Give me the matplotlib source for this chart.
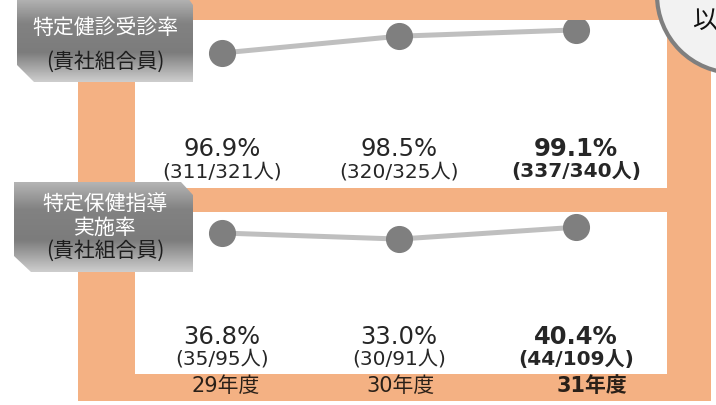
import numpy as np
import matplotlib
matplotlib.use('Agg')
import matplotlib.pyplot as plt
from matplotlib.patches import Rectangle, Polygon, Circle
from matplotlib.colors import LinearSegmentedColormap

plt.rcParams['font.family'] = ['Noto Sans CJK JP', 'DejaVu Sans']
NUMFONT = ['DejaVu Sans', 'Noto Sans CJK JP']

# data
years = ['29年度', '30年度', '31年度']
kenshin_rate = [96.9, 98.5, 99.1]
kenshin_count = ['(311/321人)', '(320/325人)', '(337/340人)']
shido_rate = [36.8, 33.0, 40.4]
shido_count = ['(35/95人)', '(30/91人)', '(44/109人)']
label1 = ['特定健診受診率', '(貴社組合員)']
label2 = ['特定保健指導', '実施率', '(貴社組合員)']

W, H = 716, 405
ORANGE = '#F4B183'
fig = plt.figure(figsize=(W / 100, H / 100), dpi=100)
fig.patch.set_facecolor('white')

# background in pixel coordinates
bg = fig.add_axes([0, 0, 1, 1])
bg.set_xlim(0, W)
bg.set_ylim(H, 0)
bg.axis('off')
bg.add_patch(Rectangle((78, -5), 633, 406, fc=ORANGE, ec='none'))
bg.add_patch(Rectangle((135, 20), 532, 168, fc='white', ec='none'))
bg.add_patch(Rectangle((135, 212), 532, 162, fc='white', ec='none'))

# gray label boxes with a vertical gradient
grad = LinearSegmentedColormap.from_list(
    'g', [(0, '#b4b4b4'), (0.3, '#828282'), (0.65, '#7c7c7c'), (1, '#cdcdcd')])


def label_box(pts, lines, ys):
    poly = Polygon(pts, closed=True, fc='none', ec='none')
    bg.add_patch(poly)
    xs = [p[0] for p in pts]
    yv = [p[1] for p in pts]
    img = bg.imshow(np.linspace(0, 1, 100).reshape(-1, 1), cmap=grad, aspect='auto',
                    extent=(min(xs), max(xs), max(yv), min(yv)), zorder=2)
    img.set_clip_path(poly)
    for txt, y in zip(lines, ys):
        col = '#1e1e1e' if txt.startswith('(') else 'white'
        bg.text(105, y, txt, ha='center', va='center', fontsize=15, color=col, zorder=3)


label_box([(17, -2), (188, -2), (193, 5), (193, 82), (34, 82), (17, 65)],
          label1, [28, 62])
label_box([(14, 182), (181, 182), (193, 195), (193, 272), (31, 272), (14, 256)],
          label2, [204, 228, 251])

# circle badge at top right (cut off by the edge, as in the source)
bg.add_patch(Circle((735, -5), 78, fc='#F2F2F2', ec='#7F7F7F', lw=3, zorder=4))
bg.text(692, 21, '以', ha='left', va='center', fontsize=18, color='#111111', zorder=5)
bg.set_xlim(0, W)
bg.set_ylim(H, 0)


def panel(top, bottom, rates, counts, y0, ppu, ytxt, show_years):
    ax = fig.add_axes([135 / W, 1 - bottom / H, 532 / W, (bottom - top) / H])
    ax.patch.set_alpha(0)
    ax.axis('off')
    ax.set_xlim((135 - 222) / 177, (667 - 222) / 177)
    ax.set_ylim(rates[0] - (bottom - y0) / ppu, rates[0] + (y0 - top) / ppu)
    x = np.arange(len(rates))
    ax.plot(x, rates, color='#BFBFBF', lw=3.6, zorder=2)
    ax.plot(x, rates, 'o', color='#7F7F7F', ms=18.5, zorder=3)
    tr = ax.get_xaxis_transform()
    hgt = bottom - top
    for i in x:
        fw = 'bold' if i == len(x) - 1 else 'normal'
        ax.text(i, (bottom - ytxt[0]) / hgt, f'{rates[i]:.1f}%', transform=tr,
                ha='center', va='center', fontsize=17.5, color='#262626',
                fontweight=fw, family=NUMFONT)
        ax.text(i, (bottom - ytxt[1]) / hgt, counts[i], transform=tr,
                ha='center', va='center', fontsize=14.5, color='#262626',
                fontweight=fw, family=NUMFONT)
        if show_years:
            ax.text(i + [0.02, 0.01, 0.09][i], (bottom - 386) / hgt, years[i],
                    transform=tr, ha='center', va='center', fontsize=15,
                    color='#2a2018', fontweight=fw, family=NUMFONT, clip_on=False)
    return ax


panel(20, 188, kenshin_rate, kenshin_count, 53, 10.5, (149, 172), False)
panel(212, 374, shido_rate, shido_count, 233, 1.6, (337, 359), True)

fig.savefig('out.png', dpi=100)
